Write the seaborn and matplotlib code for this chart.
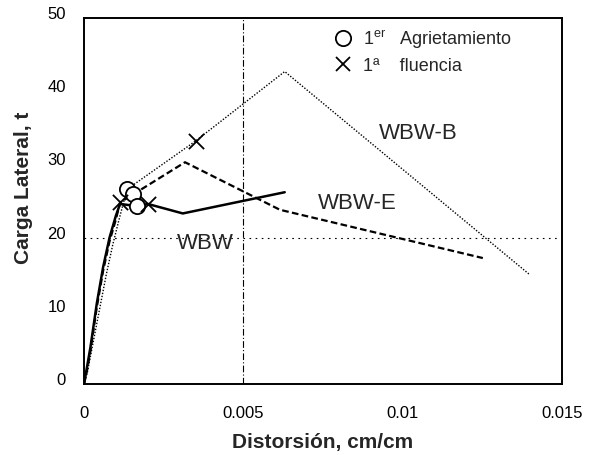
import matplotlib
matplotlib.use("Agg")
import matplotlib.pyplot as plt
import matplotlib.transforms as mtransforms
from matplotlib.lines import Line2D
import seaborn as sns

sns.set_theme(style="white")
plt.rcParams["font.family"] = ["Liberation Sans", "DejaVu Sans"]
plt.rcParams["mathtext.fontset"] = "custom"
plt.rcParams["mathtext.rm"] = "Liberation Sans"

# Envelope curves: drift (cm/cm) vs lateral load (t)
wbw_x = [0, 0.0001, 0.0002, 0.0004, 0.0006, 0.0008, 0.0010, 0.00113, 0.00166, 0.0020, 0.0031, 0.0063]
wbw_y = [0, 2.5, 5.0, 11.0, 16.0, 20.0, 23.0, 24.6, 24.3, 24.6, 23.3, 26.2]

wbwe_x = [0, 0.0001, 0.0002, 0.0004, 0.0006, 0.0008, 0.0010, 0.00113, 0.00154, 0.00317, 0.00615, 0.01252]
wbwe_y = [0, 2.0, 4.5, 10.5, 15.5, 19.5, 22.5, 24.8, 25.9, 30.3, 23.8, 17.2]

wbwb_x = [0, 0.0001, 0.0003, 0.0005, 0.0007, 0.0009, 0.0011, 0.00135, 0.0035, 0.0063, 0.0140]
wbwb_y = [0, 1.5, 6.0, 10.5, 15.0, 19.0, 22.5, 26.6, 33.2, 42.7, 14.9]

# First cracking (circles) and first yielding (crosses)
crack_x = [0.00135, 0.00154, 0.00166]
crack_y = [26.6, 25.9, 24.3]
yield_x = [0.00113, 0.0020, 0.0035]
yield_y = [24.8, 24.6, 33.2]

x_ticks = [0, 0.005, 0.01, 0.015]
x_tick_labels = ["0", "0.005", "0.01", "0.015"]
y_ticks = [0, 10, 20, 30, 40, 50]

fig = plt.figure(figsize=(5.92, 4.56), dpi=100)
ax = fig.add_axes([0.142, 0.156, 0.807, 0.802])

ax.axvline(0.005, color="black", lw=0.8, ls=(0, (6, 2, 1, 2)), zorder=1)
ax.axhline(20, color="black", lw=0.8, ls=(0, (1.5, 4)), zorder=1)

sns.lineplot(x=wbwb_x, y=wbwb_y, sort=False, ax=ax, color="black", lw=1.0,
             linestyle=(0, (1, 1.2)), estimator=None)
sns.lineplot(x=wbwe_x, y=wbwe_y, sort=False, ax=ax, color="black", lw=1.6,
             linestyle=(0, (3, 1.5)), estimator=None)
sns.lineplot(x=wbw_x, y=wbw_y, sort=False, ax=ax, color="black", lw=1.8,
             linestyle="-", estimator=None)

sns.scatterplot(x=crack_x, y=crack_y, ax=ax, marker="o", s=120,
                facecolor="white", edgecolor="black", linewidth=1.3, zorder=5)
sns.scatterplot(x=yield_x, y=yield_y, ax=ax, marker="x", s=120,
                color="black", linewidth=1.3, zorder=6)

ax.text(0.0105, 34.4, "WBW-B", fontsize=16, ha="center", va="center")
ax.text(0.00857, 24.8, "WBW-E", fontsize=16, ha="center", va="center")
ax.text(0.0038, 19.3, "WBW", fontsize=16, ha="center", va="center")

handles = [
    Line2D([], [], ls="none", marker="o", markersize=11, markerfacecolor="white",
           markeredgecolor="black", markeredgewidth=1.3),
    Line2D([], [], ls="none", marker="x", markersize=10, color="black",
           markeredgewidth=1.3),
]
ax.legend(handles, [r"1$^{\rm er}$   Agrietamiento", "1ª    fluencia"],
          loc="upper left", bbox_to_anchor=(0.515, 0.985), frameon=False,
          fontsize=13, handlelength=1.0, handletextpad=0.6,
          labelspacing=0.4, borderaxespad=0.0, borderpad=0.2)

ax.set_xlim(0, 0.015)
ax.set_ylim(0, 50)
ax.set_xticks(x_ticks)
ax.set_xticklabels(x_tick_labels)
ax.set_yticks(y_ticks)
ax.tick_params(axis="both", length=0, labelsize=12, colors="black")
ax.tick_params(axis="x", pad=15)
ax.tick_params(axis="y", pad=13)

# y tick labels sit slightly above their gridline positions
shift = mtransforms.ScaledTranslation(0, 6 / 100, fig.dpi_scale_trans)
for lbl in ax.get_yticklabels():
    lbl.set_transform(lbl.get_transform() + shift)

ax.set_xlabel("Distorsión, cm/cm", fontsize=15, fontweight="bold", labelpad=9)
ax.set_ylabel("Carga Lateral, t", fontsize=15, fontweight="bold")
ax.yaxis.set_label_coords(-0.106, 0.54)

for sp in ax.spines.values():
    sp.set_color("black")
    sp.set_linewidth(1.4)

fig.savefig("out.png", dpi=100)
